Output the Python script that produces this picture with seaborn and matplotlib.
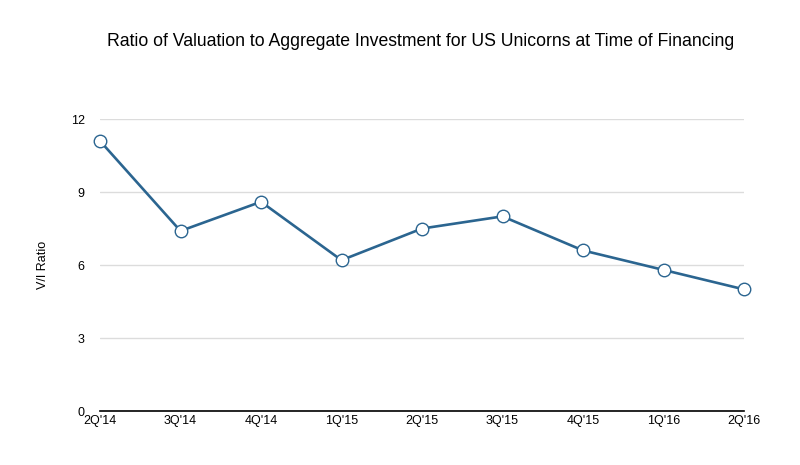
import pandas as pd
import matplotlib
matplotlib.use("Agg")
import matplotlib.pyplot as plt
import seaborn as sns

quarters = ["2Q'14", "3Q'14", "4Q'14", "1Q'15", "2Q'15", "3Q'15", "4Q'15", "1Q'16", "2Q'16"]
vi_ratio = [11.1, 7.4, 8.6, 6.2, 7.5, 8.0, 6.6, 5.8, 5.0]
y_ticks = [0, 3, 6, 9, 12]

sns.set_style("white")
plt.rcParams['font.family'] = ['Liberation Sans', 'DejaVu Sans']

df = pd.DataFrame({'quarter': quarters, 'ratio': vi_ratio})
df['pos'] = range(len(df))

fig = plt.figure(figsize=(8, 4.65), dpi=100)
ax = fig.add_axes([0.125, 0.116, 0.805, 0.628])

sns.lineplot(data=df, x='pos', y='ratio', ax=ax, color='#2b6590', linewidth=1.9,
             marker='o', markersize=9, markerfacecolor='white',
             markeredgecolor='#2b6590', markeredgewidth=1.0, clip_on=False, zorder=3)

ax.set_xlim(0, len(quarters) - 1)
ax.set_ylim(0, 12)
ax.set_yticks(y_ticks)
ax.set_yticklabels([str(t) for t in y_ticks], fontsize=9, color='black')
ax.set_xticks(df['pos'])
ax.set_xticklabels(quarters, fontsize=9, color='black')
ax.tick_params(axis='both', length=0)
ax.tick_params(axis='y', pad=11)
ax.tick_params(axis='x', pad=3)
ax.yaxis.grid(True, color='#dcdcdc', linewidth=1)
ax.set_axisbelow(True)
for s in ['top', 'right', 'left']:
    ax.spines[s].set_visible(False)
ax.spines['bottom'].set_color('black')
ax.spines['bottom'].set_linewidth(1.2)

ax.set_xlabel('')
ax.set_ylabel('V/I Ratio', fontsize=9, labelpad=16, color='black')

fig.text(0.526, 0.91, 'Ratio of Valuation to Aggregate Investment for US Unicorns at Time of Financing',
         ha='center', va='center', fontsize=12.7, color='black')

fig.savefig('out.png', dpi=100)
